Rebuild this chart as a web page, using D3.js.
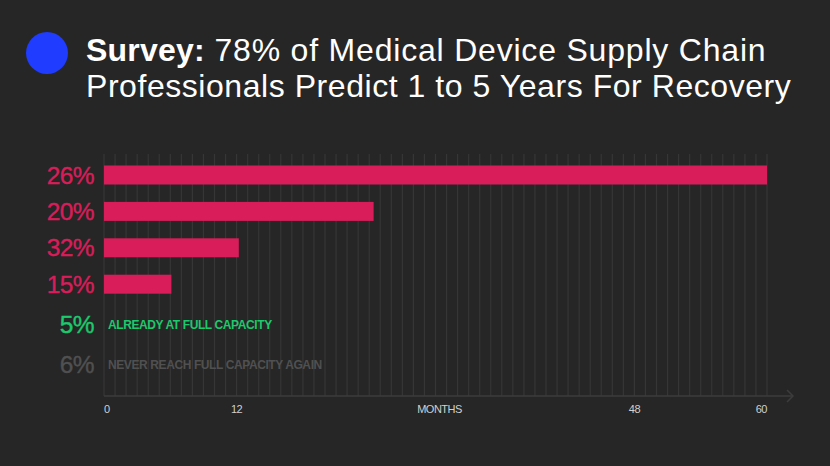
<!DOCTYPE html>
<html lang="en">
<head>
	<meta charset="UTF-8"/>
	<title>Survey: Months to Recovery</title>
	<script src="https://d3js.org/d3.v7.min.js"></script>
	<style>
		body {
			margin: 0;
			background: #262626;
		}
		svg text {
			font-family: "Liberation Sans", Arial, Helvetica, sans-serif;
		}
	</style>
</head>
<body>
	<script>
		// share of respondents, months to recovery, bar note
		var shares = ["26%", "20%", "32%", "15%", "5%", "6%"];
		var months = [60, 24.4, 12.2, 6.1, 0, 0];
		var notes = ["", "", "", "", "ALREADY AT FULL CAPACITY", "NEVER REACH FULL CAPACITY AGAIN"];
		var kinds = ["bar", "bar", "bar", "bar", "full", "never"];

		var tickValues = [0, 12, 30, 48, 60];
		var tickLabels = ["0", "12", "MONTHS", "48", "60"];

		var w = 830;
		var h = 466;

		var colors = {bar: "#d81d5a", full: "#1cc96c", never: "#505050"};

		var svg = d3.select("body").append("svg").attr("width", w).attr("height", h);

		// title block
		svg.append("circle")
			.attr("cx", 47)
			.attr("cy", 53)
			.attr("r", 21)
			.attr("fill", "#1f3cff");

		var title = svg.append("text")
			.attr("x", 86)
			.attr("y", 61)
			.attr("fill", "#ffffff")
			.attr("font-size", 32)
			.attr("letter-spacing", 0.8);
		title.append("tspan").attr("font-weight", "bold").attr("letter-spacing", 0.2).text("Survey:");
		title.append("tspan").text(" 78% of Medical Device Supply Chain");

		svg.append("text")
			.attr("x", 86)
			.attr("y", 97)
			.attr("fill", "#ffffff")
			.attr("font-size", 32)
			.attr("letter-spacing", 0.55)
			.text("Professionals Predict 1 to 5 Years For Recovery");

		var xScale = d3.scaleLinear()
						.domain([0, 60])
						.range([104, 767]);

		var yScale = d3.scalePoint()
						.domain(d3.range(shares.length))
						.range([175, 357]);

		// rows without a bar sit a little further apart
		function rowY(i) {
			return yScale(i) + (kinds[i] == "bar" ? 0 : (i - 3) * 3.5);
		}

		var gridTop = 154;
		var axisY = 396;

		// monthly grid
		svg.selectAll("line.grid").data(d3.range(0, 61)).enter().append("line")
			.attr("class", "grid")
			.attr("x1", function(d){ return xScale(d); })
			.attr("x2", function(d){ return xScale(d); })
			.attr("y1", gridTop)
			.attr("y2", axisY)
			.attr("stroke", "#363636")
			.attr("stroke-width", 1.2);

		// axis line with arrow
		svg.append("line")
			.attr("x1", xScale(0))
			.attr("x2", 793)
			.attr("y1", axisY)
			.attr("y2", axisY)
			.attr("stroke", "#3c3c3c")
			.attr("stroke-width", 1.5);

		svg.append("path")
			.attr("d", "M787," + (axisY - 6) + "L793," + axisY + "L787," + (axisY + 6))
			.attr("fill", "none")
			.attr("stroke", "#3c3c3c")
			.attr("stroke-width", 1.5);

		svg.selectAll("text.tick").data(tickValues).enter().append("text")
			.attr("class", "tick")
			.attr("x", function(d){ return xScale(d) + (d == 30 ? 4 : 0); })
			.attr("y", 413)
			.attr("text-anchor", function(d){
				if (d == 0) return "start";
				if (d == 60) return "end";
				return "middle";
			})
			.attr("fill", "#d0d0d0")
			.attr("font-size", 11)
			.attr("letter-spacing", -0.5)
			.text(function(d, i){ return tickLabels[i]; });

		// bars
		var barH = 19;
		svg.selectAll("rect.bar").data(months).enter().append("rect")
			.attr("class", "bar")
			.attr("x", xScale(0))
			.attr("y", function(d, i){ return rowY(i) - barH / 2; })
			.attr("width", function(d){ return xScale(d) - xScale(0); })
			.attr("height", function(d){ return d > 0 ? barH : 0; })
			.attr("fill", colors.bar);

		// share labels
		svg.selectAll("text.share").data(shares).enter().append("text")
			.attr("class", "share")
			.attr("x", 94)
			.attr("y", function(d, i){ return rowY(i) + 8.5; })
			.attr("text-anchor", "end")
			.attr("font-size", 24.5)
			.attr("letter-spacing", -0.6)
			.attr("stroke-width", 0.4)
			.attr("stroke", function(d, i){ return colors[kinds[i]]; })
			.attr("fill", function(d, i){ return colors[kinds[i]]; })
			.text(function(d){ return d; });

		// notes for rows without a bar
		svg.selectAll("text.note").data(notes).enter().append("text")
			.attr("class", "note")
			.attr("x", 108)
			.attr("y", function(d, i){ return rowY(i) + 4.5; })
			.attr("font-size", 12)
			.attr("font-weight", "bold")
			.attr("letter-spacing", -0.4)
			.attr("fill", function(d, i){ return colors[kinds[i]]; })
			.text(function(d){ return d; });
	</script>
</body>
</html>
